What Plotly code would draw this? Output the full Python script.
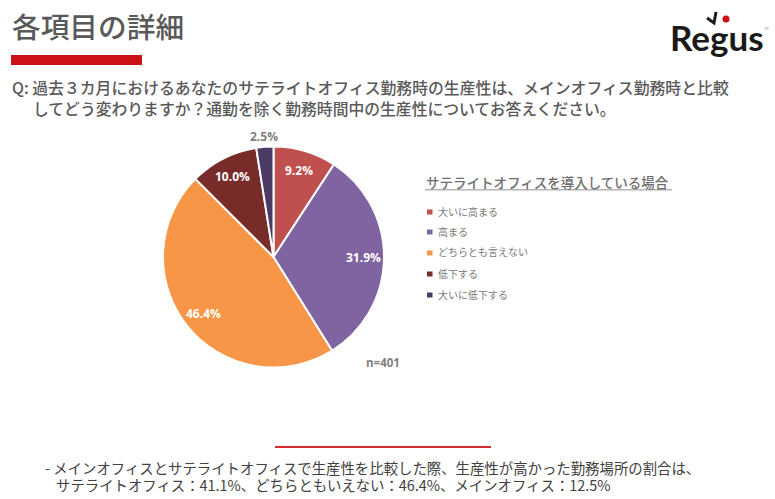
import math
import plotly.graph_objects as go

W, H = 775, 499
JP = "Noto Sans CJK JP"
GREY = "#595959"

labels = ["大いに高まる", "高まる", "どちらとも言えない", "低下する", "大いに低下する"]
values = [9.2, 31.9, 46.4, 10.0, 2.5]
colors = ["#C0504D", "#8064A2", "#F79646", "#772C2A", "#4B3A63"]
text_colors = ["white", "white", "white", "white", "#7F7F7F"]

title = "各項目の詳細"
question = ["Q: 過去３カ月におけるあなたのサテライトオフィス勤務時の生産性は、メインオフィス勤務時と比較",
            "してどう変わりますか？通勤を除く勤務時間中の生産性についてお答えください。"]
legend_title = "サテライトオフィスを導入している場合"
sample = "n=401"
notes = ["- メインオフィスとサテライトオフィスで生産性を比較した際、生産性が高かった勤務場所の割合は、",
         "サテライトオフィス：41.1%、どちらともいえない：46.4%、メインオフィス：12.5%"]


def px(x):
    return x / W


def py(y):
    return 1 - y / H


def label(x, y, text, size, color=GREY, weight=400, family=JP, anchor="left"):
    return dict(xref="paper", yref="paper", x=px(x), y=py(y), text=text, showarrow=False,
                xanchor=anchor, yanchor="middle", align="left",
                font=dict(family=family, size=size, color=color, weight=weight))


def rect(x0, y0, x1, y1, color):
    return dict(type="rect", xref="paper", yref="paper", x0=px(x0), x1=px(x1),
                y0=py(y0), y1=py(y1), fillcolor=color, line_width=0)


pie = go.Pie(labels=labels, values=values, sort=False, direction="clockwise", rotation=0,
             marker=dict(colors=colors, line=dict(color="white", width=2)),
             textinfo="none", showlegend=False,
             domain=dict(x=[px(163), px(384)], y=[py(368), py(146)]))

annotations = [
    label(10, 25, title, 28.7, weight=500),
    label(10, 87, question[0], 15.85, weight=500),
    label(31, 108, question[1], 15.8, weight=500),
    label(424, 182, legend_title, 13.5, color="#6E6E6E", weight=500),
    label(364, 362, sample, 11.5, color="#7F7F7F", weight=700, family="Open Sans"),
    label(43, 467, notes[0], 14.4, color="#404040"),
    label(54, 484, notes[1], 14.4, color="#404040"),
    # logo
    label(668, 37, "Regus", 35, color="#1A1A1A", weight=700, family="Lato"),
    label(762, 29, "TM", 3, color="#888888", family="Lato"),
]

shapes = [
    rect(11, 55, 142, 65, "#CC1118"),
    rect(275, 446, 491, 448, "#D62B30"),
    rect(425, 189, 672, 190.5, "#B5B5B5"),
    dict(type="circle", xref="paper", yref="paper", x0=px(722.5), x1=px(729.5), y0=py(15.5), y1=py(22.5),
         fillcolor="#CC1118", line_width=0),
    dict(type="path", xref="paper", yref="paper", line=dict(color="#1A1A1A", width=3),
         path="M %.4f %.4f L %.4f %.4f L %.4f %.4f" % (px(707), py(18), px(714), py(23), px(716), py(12))),
]

for i, name in enumerate(labels):
    y = [212, 232, 253, 274, 295][i]
    shapes.append(rect(427, y - 2.5, 432.5, y + 2.5, colors[i]))
    annotations.append(label(436, y - 1, name, 10, color="#7A7A7A"))

# slice labels sit further out than plotly's own inside text, so place them from the slice angles
start = 0
for value, color in zip(values, text_colors):
    angle = math.radians((start + value / 2) * 3.6)
    start += value
    radius = 121 if value < 5 else 90
    annotations.append(label(273.5 + radius * math.sin(angle), 257 - radius * math.cos(angle),
                             "%.1f%%" % value, 12, color=color, weight=700,
                             family="Open Sans", anchor="center"))

fig = go.Figure(pie)
fig.update_layout(width=W, height=H, margin=dict(l=0, r=0, t=0, b=0),
                  paper_bgcolor="white", plot_bgcolor="white",
                  annotations=annotations, shapes=shapes)
fig.write_html("out.html", config=dict(displayModeBar=False),
               post_script="document.body.style.margin = '0';")
